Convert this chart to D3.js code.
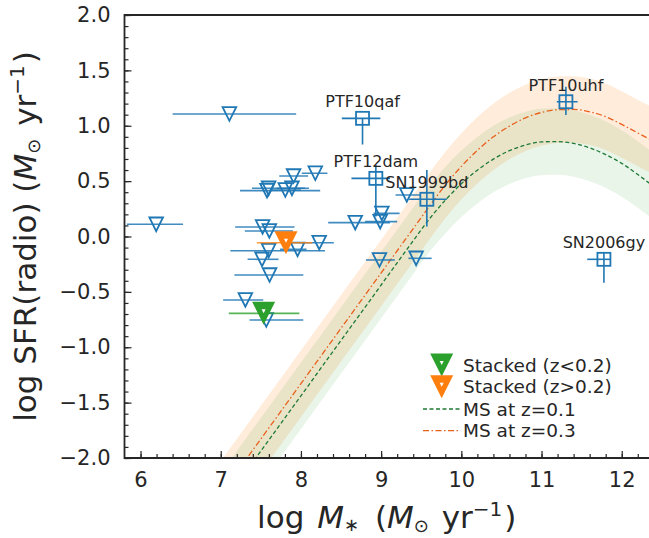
<!DOCTYPE html>
<html><head><meta charset="utf-8">
<script src="https://cdn.jsdelivr.net/npm/d3@7"></script>
<style>body{margin:0;background:#fff}text{font-family:"DejaVu Sans",sans-serif;fill:#262626}</style>
</head><body><svg id="c" width="649" height="538"></svg>
<script>
// ---- data ----
// upper limits (open down-triangles)
const ulX   = [7.108, 6.195, 7.908, 8.179, 7.597, 7.577, 7.805, 7.888, 7.522, 7.606, 8.228, 7.958, 7.597, 7.515, 7.609, 7.307, 7.568, 9.32, 8.677, 9.009, 8.988, 8.979, 9.436];
const ulY   = [1.106, 0.11, 0.546, 0.571, 0.435, 0.414, 0.42, 0.435, 0.086, 0.05, -0.056, -0.116, -0.128, -0.206, -0.348, -0.573, -0.754, 0.375, 0.125, 0.209, 0.134, -0.212, -0.197];
const ulXlo = [6.40, 5.83, 7.73, 8.01, 7.39, 7.24, 7.62, 7.70, 7.18, 7.30, 8.01, 7.74, 7.12, 7.335, 7.17, 7.03, 7.36, 9.18, 8.34, 8.905, 8.80, 8.81, 9.34];
const ulXhi = [7.94, 6.53, 8.09, 8.33, 8.10, 8.24, 8.00, 8.05, 7.92, 7.90, 8.41, 8.07, 8.30, 7.72, 8.03, 7.53, 8.03, 9.49, 9.11, 9.23, 9.20, 9.17, 9.63];
// detections (open squares)
const detName = ["PTF10qaf", "PTF12dam", "SN1999bd", "PTF10uhf", "SN2006gy"];
const detX    = [8.768, 8.934, 9.57, 11.304, 11.778];
const detY    = [1.067, 0.525, 0.336, 1.217, -0.206];
const detXlo  = [8.51, 8.63, 9.35, 11.19, 11.57];
const detXhi  = [8.99, 9.11, 9.82, 11.45, 11.86];
const detYlo  = [0.83, 0.18, 0.09, 1.097, -0.417];
const detYhi  = [1.07, 0.645, 0.60, 1.353, -0.146];
// stacked
const stkName = ["Stacked (z<0.2)", "Stacked (z>0.2)"];
const stkX    = [7.535, 7.814];
const stkY    = [-0.694, -0.056];
const stkXlo  = [7.10, 7.45];
const stkXhi  = [7.98, 8.14];
// main-sequence curves
const msM   = [6.8, 7.0, 7.5, 8.0, 8.5, 9.0, 9.4, 9.5, 9.6, 9.7, 9.8, 10.0, 10.2, 10.4, 10.6, 10.8, 11.0, 11.2, 11.4, 11.6, 11.8, 12.0, 12.2, 12.4];
const ms01  = [-2.638, -2.438, -1.938, -1.438, -0.938, -0.438, -0.038, 0.062, 0.157, 0.245, 0.328, 0.476, 0.599, 0.699, 0.775, 0.826, 0.854, 0.857, 0.840, 0.800, 0.740, 0.660, 0.560, 0.450];
const ms03  = [-2.529, -2.329, -1.829, -1.329, -0.829, -0.329, 0.071, 0.171, 0.271, 0.370, 0.464, 0.633, 0.778, 0.900, 0.997, 1.071, 1.120, 1.145, 1.147, 1.126, 1.082, 1.012, 0.935, 0.860];
const msScatter = 0.3;
const msLabels = ["MS at z=0.1", "MS at z=0.3"];
const xTicks = [6, 7, 8, 9, 10, 11, 12];
const yTicks = [-2.0, -1.5, -1.0, -0.5, 0.0, 0.5, 1.0, 1.5, 2.0];

// ---- drawing ----
const svg = d3.select("#c");
const L = 124.5, R = 649, T = 15, B = 458;
const x = d3.scaleLinear().domain([5.8, 12.34]).range([L, R]);
const y = d3.scaleLinear().domain([-2, 2]).range([B, T]);
const BLUE = "#1f77b4", ORANGE = "#ff7f0e", GREEN = "#2ca02c";

svg.append("defs").append("clipPath").attr("id", "clip")
  .append("rect").attr("x", L).attr("y", T).attr("width", R - L).attr("height", B - T);
const g = svg.append("g").attr("clip-path", "url(#clip)");

const msData = (arr) => msM.map((m, i) => ({m, v: arr[i]}));
const area = d3.area().x(d => x(d.m)).y0(d => y(d.v - msScatter)).y1(d => y(d.v + msScatter)).curve(d3.curveMonotoneX);
const line = d3.line().x(d => x(d.m)).y(d => y(d.v)).curve(d3.curveMonotoneX);
g.append("path").datum(msData(ms03)).attr("d", area).attr("fill", ORANGE).attr("fill-opacity", 0.15);
g.append("path").datum(msData(ms01)).attr("d", area).attr("fill", GREEN).attr("fill-opacity", 0.1);
g.append("path").datum(msData(ms01)).attr("d", line).attr("fill", "none").attr("stroke", "#1e7a36").attr("stroke-width", 1.3).attr("stroke-dasharray", "4,2.5");
g.append("path").datum(msData(ms03)).attr("d", line).attr("fill", "none").attr("stroke", "#e8601c").attr("stroke-width", 1.3).attr("stroke-dasharray", "6,2.5,1.5,2.5");

const tri = (h) => `M${-h},${-h}L${h},${-h}L0,${h}Z`;

// upper limits
ulX.forEach((v, i) => {
  g.append("line").attr("x1", x(ulXlo[i])).attr("x2", x(ulXhi[i])).attr("y1", y(ulY[i])).attr("y2", y(ulY[i]))
    .attr("stroke", BLUE).attr("stroke-width", 1.6).attr("stroke-opacity", 0.85);
});
ulX.forEach((v, i) => {
  g.append("path").attr("d", tri(6.8)).attr("transform", `translate(${x(v)},${y(ulY[i])})`)
    .attr("fill", "none").attr("stroke", BLUE).attr("stroke-width", 1.8);
});
// stacked
stkX.forEach((v, i) => {
  const c = i === 0 ? GREEN : ORANGE;
  g.append("line").attr("x1", x(stkXlo[i])).attr("x2", x(stkXhi[i])).attr("y1", y(stkY[i])).attr("y2", y(stkY[i]))
    .attr("stroke", c).attr("stroke-width", 1.6).attr("stroke-opacity", 0.8);
  g.append("path").attr("d", tri(11.5)).attr("transform", `translate(${x(v)},${y(stkY[i])})`).attr("fill", c);
  g.append("path").attr("d", tri(2)).attr("transform", `translate(${x(v)},${y(stkY[i]) - 2})`).attr("fill", "#fff");
});
// detections
detX.forEach((v, i) => {
  const cx = x(v), cy = y(detY[i]);
  g.append("line").attr("x1", x(detXlo[i])).attr("x2", x(detXhi[i])).attr("y1", cy).attr("y2", cy).attr("stroke", BLUE).attr("stroke-width", 1.6);
  g.append("line").attr("x1", cx).attr("x2", cx).attr("y1", y(detYlo[i])).attr("y2", y(detYhi[i])).attr("stroke", BLUE).attr("stroke-width", 1.6);
  g.append("rect").attr("x", cx - 6.5).attr("y", cy - 6.5).attr("width", 13).attr("height", 13)
    .attr("fill", "none").attr("stroke", BLUE).attr("stroke-width", 1.8);
  svg.append("text").attr("x", cx).attr("y", cy - 11).attr("text-anchor", "middle").attr("font-size", 16).text(detName[i]);
});

// axes
const fmt = d3.format(".1f");
svg.append("g").attr("transform", `translate(0,${B})`)
  .call(d3.axisBottom(x).tickValues(xTicks).tickSize(-7).tickPadding(14).tickFormat(d3.format("d")));
svg.append("g").attr("transform", `translate(0,${B})`)
  .call(d3.axisBottom(x).tickValues(d3.range(6, 12.31, 0.2)).tickSize(-4).tickFormat(""));
svg.append("g").attr("transform", `translate(${L},0)`)
  .call(d3.axisLeft(y).tickValues(yTicks).tickSize(-7).tickPadding(14).tickFormat(fmt));
svg.append("g").attr("transform", `translate(${L},0)`)
  .call(d3.axisLeft(y).tickValues(d3.range(-20, 21).map(k => k / 10)).tickSize(-4).tickFormat(""));
svg.selectAll(".domain").remove();
svg.selectAll(".tick line").attr("stroke", "#262626").attr("stroke-width", 1.2);
svg.selectAll(".tick text").attr("font-size", 21).attr("fill", "#262626").attr("font-family", "DejaVu Sans");

// spines
svg.append("path").attr("d", `M${R},${T}H${L}V${B}H${R}`).attr("fill", "none").attr("stroke", "#262626").attr("stroke-width", 1.8);

// axis labels
const xl = svg.append("text").attr("x", (L + R) / 2).attr("y", 528).attr("text-anchor", "middle").attr("font-size", 31);
xl.append("tspan").text("log ");
xl.append("tspan").attr("font-style", "italic").attr("dx", 3).text("M");
xl.append("tspan").attr("font-size", 18).attr("dy", 3).text("∗");
xl.append("tspan").attr("dy", -3).attr("dx", 6).text(" (");
xl.append("tspan").attr("font-style", "italic").text("M");
xl.append("tspan").attr("font-size", 18).attr("dy", 4).text("⊙");
xl.append("tspan").attr("dy", -4).attr("dx", 3).text(" yr");
xl.append("tspan").attr("font-size", 20).attr("dy", -12).text("−1");
xl.append("tspan").attr("dy", 12).attr("dx", 2).text(")");

const yl = svg.append("text").attr("transform", `translate(36,${(T + B) / 2}) rotate(-90)`).attr("text-anchor", "middle").attr("font-size", 31);
yl.append("tspan").text("log SFR(radio) (");
yl.append("tspan").attr("font-style", "italic").text("M");
yl.append("tspan").attr("font-size", 18).attr("dy", 4).text("⊙");
yl.append("tspan").attr("dy", -4).attr("dx", 3).text(" yr");
yl.append("tspan").attr("font-size", 20).attr("dy", -12).text("−1");
yl.append("tspan").attr("dy", 12).attr("dx", 2).text(")");

// legend
const lg = svg.append("g");
const rows = [365, 386.7, 409, 430.7];
[GREEN, ORANGE].forEach((c, i) => {
  lg.append("path").attr("d", tri(11.5)).attr("transform", `translate(441.7,${rows[i]})`).attr("fill", c);
  lg.append("path").attr("d", tri(2)).attr("transform", `translate(441.7,${rows[i] - 2})`).attr("fill", "#fff");
  lg.append("text").attr("x", 463).attr("y", rows[i] + 6.7).attr("font-size", 18.5).text(stkName[i]);
});
lg.append("line").attr("x1", 423).attr("x2", 460).attr("y1", rows[2]).attr("y2", rows[2]).attr("stroke", "#1e7a36").attr("stroke-width", 1.3).attr("stroke-dasharray", "4,2.5");
lg.append("line").attr("x1", 423).attr("x2", 460).attr("y1", rows[3]).attr("y2", rows[3]).attr("stroke", "#e8601c").attr("stroke-width", 1.3).attr("stroke-dasharray", "6,2.5,1.5,2.5");
msLabels.forEach((t, i) => lg.append("text").attr("x", 463).attr("y", rows[2 + i] + 6.7).attr("font-size", 18.5).text(t));
</script></body></html>
